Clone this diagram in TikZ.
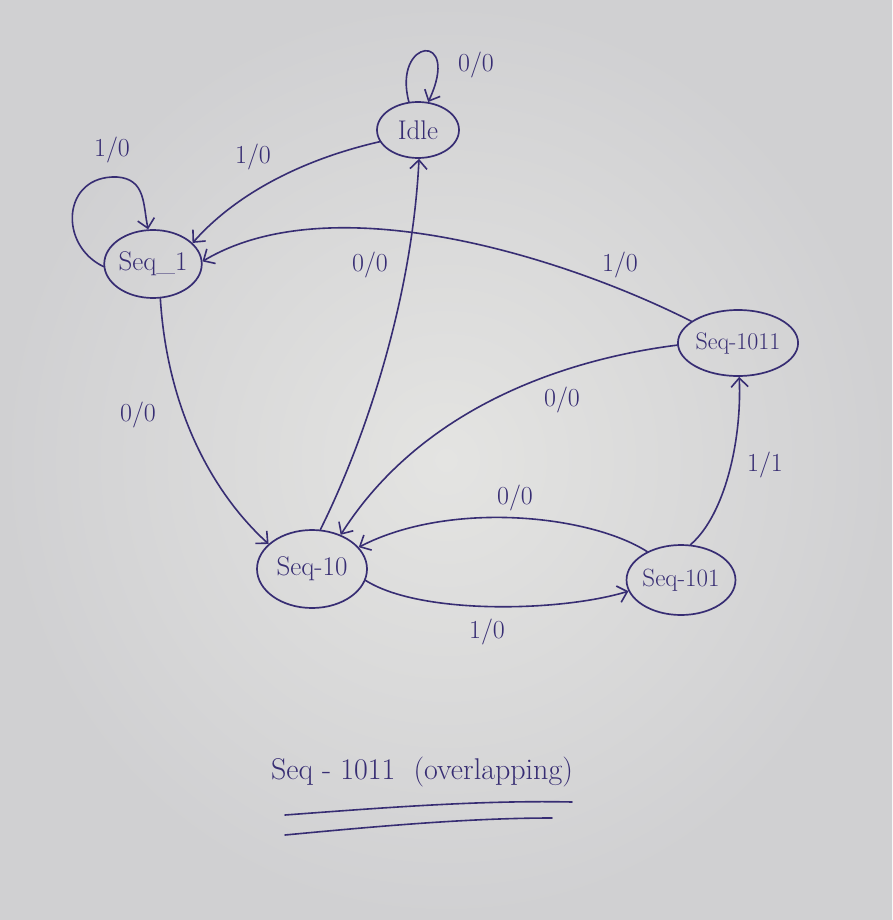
\documentclass[tikz,border=0pt]{standalone}
\usetikzlibrary{shapes.geometric,arrows.meta}
\definecolor{ink}{RGB}{55,45,115}
\definecolor{paperin}{RGB}{228,228,226}
\definecolor{paperout}{RGB}{208,208,210}
\tikzset{
  statebox/.style={draw=ink, line width=1.7pt, ellipse, inner sep=0pt, text=ink,
    font=\fontsize{27}{29}\selectfont},
  lbl/.style={text=ink, font=\fontsize{26}{28}\selectfont, inner sep=0pt},
  edge/.style={draw=ink, line width=1.6pt, line cap=round,
    -{Straight Barb[length=9pt,width=17pt,line width=1.6pt]}},
  plain/.style={draw=ink, line width=1.6pt, line cap=round}
}
\begin{document}
\begin{tikzpicture}[x=1pt,y=-1pt]
\useasboundingbox (0,0) rectangle (892,920);
\shade[inner color=paperin, outer color=paperout] (0,0) rectangle (892,920);

% states
\node[statebox, minimum width=82pt, minimum height=56pt] (idle) at (418,130) {Idle};
\node[statebox, minimum width=97pt, minimum height=68pt] (s1) at (153,264) {Seq\_1};
\node[statebox, minimum width=106pt, minimum height=66pt, font=\fontsize{24}{26}\selectfont] (s1011) at (738,343) {Seq-1011};
\node[statebox, minimum width=110pt, minimum height=78pt] (s10) at (312,569) {Seq-10};
\node[statebox, minimum width=102pt, minimum height=70pt, font=\fontsize{25}{27}\selectfont] (s101) at (681,580) {Seq-101};

% self loops
\draw[edge] (idle.108) .. controls (392,38) and (462,30) .. (idle.70);
\node[lbl] (l1) at (476,65) {0/0};
\draw[edge] (s1.183) .. controls (58,245) and (62,175) .. (117,177)
  .. controls (146,179) and (143,205) .. (s1.98);
\node[lbl] (l2) at (112,150) {1/0};

% transitions
\draw[edge] (idle.197) .. controls (300,160) and (235,195) .. (s1.28);
\node[lbl] (l3) at (253,157) {1/0};

\draw[edge] (s1011.155) .. controls (560,255) and (330,185) .. (s1.3);
\node[lbl] (l4) at (620,265) {1/0};

\draw[edge] (s1.-78) .. controls (168,420) and (220,500) .. (s10.150);
\node[lbl] (l5) at (138,415) {0/0};

\draw[edge] (s10.78) .. controls (365,440) and (412,300) .. (idle.-88);
\node[lbl] (l6) at (370,265) {0/0};

\draw[edge] (s1011.182) .. controls (560,360) and (420,410) .. (s10.50);
\node[lbl] (l7) at (562,400) {0/0};

\draw[edge] (s101.140) .. controls (590,515) and (450,500) .. (s10.25);
\node[lbl] (l8) at (515,498) {0/0};

\draw[edge] (s10.-12) .. controls (420,615) and (560,612) .. (s101.192);
\node[lbl] (l9) at (487,632) {1/0};

\draw[edge] (s101.75) .. controls (725,515) and (742,440) .. (s1011.-88);
\node[lbl] (l10) at (765,465) {1/1};

% title
\node[text=ink, font=\fontsize{30}{32}\selectfont, inner sep=0pt] (title) at (422,772) {Seq - 1011 \ (overlapping)};
\coordinate (u1a) at (285,815);
\coordinate (u1b) at (572,802);
\coordinate (u2a) at (285,835);
\coordinate (u2b) at (552,818);
\draw[plain] (u1a) .. controls (380,808) and (480,800) .. (u1b);
\draw[plain] (u2a) .. controls (380,826) and (470,818) .. (u2b);
\end{tikzpicture}
\end{document}
